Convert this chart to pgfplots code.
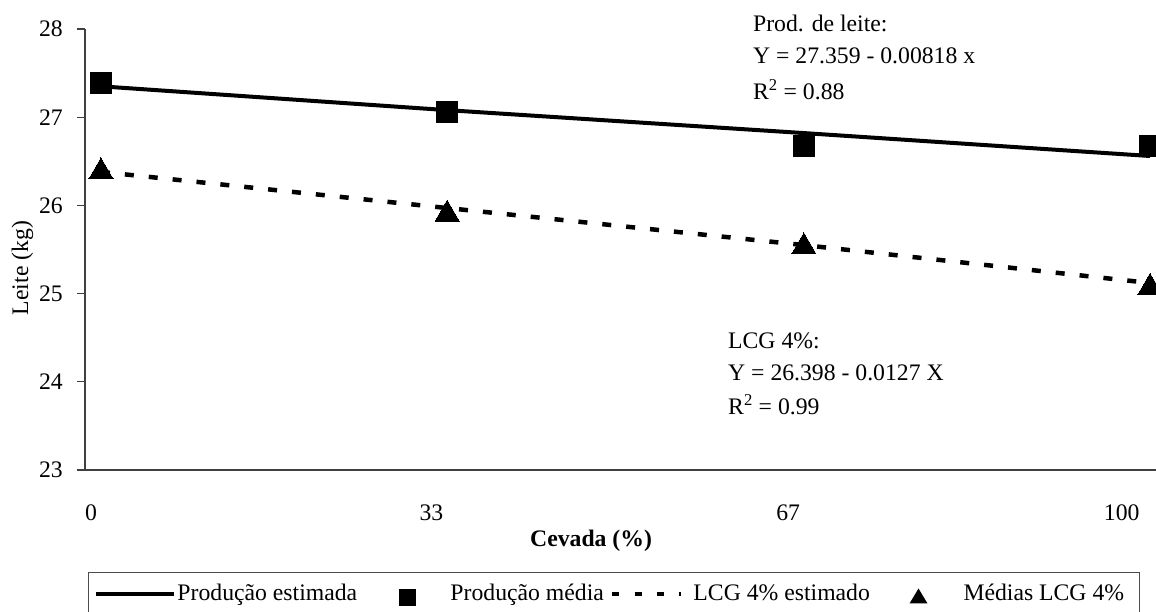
\documentclass[border=0pt]{standalone}
\usepackage{fontspec}
\setmainfont{Liberation Serif}
\usepackage{pgfplots}
\pgfplotsset{compat=1.18}
\begin{document}
\begin{tikzpicture}[font=\fontsize{23.7pt}{28pt}\selectfont]
\begin{axis}[
  name=ax,
  scale only axis,
  width=1071pt, height=441pt,
  xmin=-1.525, xmax=100.57,
  ymin=23, ymax=28,
  axis lines=left,
  axis line style={-, line width=1.3pt, black!75},
  ytick={23,24,25,26,27,28},
  xtick={-0.95,31.5,65.5,97.3},
  xticklabels={0,33,67,100},
  tick align=outside,
  major tick length=8pt,
  x tick style={draw=none},
  y tick style={line width=1.3pt, black!75},
  yticklabel style={inner sep=0pt, xshift=-14pt},
  xticklabel style={inner sep=0pt, yshift=-27pt},
  /pgf/number format/assume math mode=true,
  clip mode=individual,
  xlabel={\textbf{Cevada (\%)}},
  xlabel style={at={(axis description cs:0.4725,0)}, anchor=north, inner sep=0pt, yshift=-60pt},
  ylabel={Leite (kg)},
  ylabel style={at={(axis description cs:0,0.458)}, anchor=center, yshift=62.5pt},
  legend columns=4,
  legend style={at={(axis description cs:0,0)}, anchor=north west, xshift=3pt, yshift=-102pt,
     draw=black!70, line width=1pt, inner xsep=0pt, inner ysep=9pt,
     cells={anchor=west}, nodes={inner sep=0pt, text height=19pt, text depth=6pt},
     /tikz/every even column/.append style={column sep=0pt}},
]
\addplot[black, line width=4pt, line join=round, no marks,
  legend image code/.code={\draw[line width=4pt, black, solid] (8pt,0pt) -- (85pt,0pt); \path[draw=none,fill=none] (0pt,0pt) -- (89pt,0pt);}]
  coordinates {(0,27.35) (33,27.08) (67,26.82) (100,26.56)};
\addlegendentry{\makebox[213pt][l]{Produção estimada}}
\addplot[only marks, mark=square*, mark size=10.5pt, mark options={solid, fill=black, draw=black, line width=0pt},
  legend image code/.code={\fill[black, draw=none] (8.5pt,-12pt) rectangle (25.5pt,5pt); \path[draw=none,fill=none] (0pt,0pt) -- (60pt,0pt);}]
  coordinates {(0,27.39) (33,27.06) (67,26.67) (100,26.67)};
\addlegendentry{\makebox[155pt][l]{Produção média}}
\addplot[black, line width=4.5pt, dash pattern=on 9pt off 15pt, no marks,
  legend image code/.code={\draw[line width=3.5pt, black, dash pattern=on 7pt off 15pt] (7pt,0pt) -- (75pt,0pt); \path[draw=none,fill=none] (0pt,0pt) -- (88pt,0pt);}]
  coordinates {(0,26.38) (33,25.97) (67,25.55) (100,25.12)};
\addlegendentry{\makebox[200pt][l]{LCG 4\% estimado}}
\addplot[only marks, mark=triangle*, mark size=14pt, mark options={solid, fill=black, draw=black, line width=0pt},
  legend image code/.code={\fill[black, draw=none] (16pt,-9.5pt) -- (34pt,-9.5pt) -- (25pt,5.5pt) -- cycle; \path[draw=none,fill=none] (0pt,0pt) -- (70pt,0pt);}]
  coordinates {(0,26.38) (33,25.90) (67,25.53) (100,25.07)};
\addlegendentry{\makebox[176pt][l]{Médias LCG 4\%}}
\node[anchor=base west, inner sep=0pt] at (axis cs:62.15,27.969) {Prod. de leite:};
\node[anchor=base west, inner sep=0pt] at (axis cs:62.15,27.611) {Y = 27.359 - 0.00818 x};
\node[anchor=base west, inner sep=0pt] at (axis cs:62.15,27.206) {R\textsuperscript{2} = 0.88};
\node[anchor=base west, inner sep=0pt] at (axis cs:59.77,24.383) {LCG 4\%:};
\node[anchor=base west, inner sep=0pt] at (axis cs:59.77,24.020) {Y = 26.398 - 0.0127 X};
\node[anchor=base west, inner sep=0pt] at (axis cs:59.77,23.624) {R\textsuperscript{2} = 0.99};
\end{axis}
\pgfresetboundingbox
\path[use as bounding box] ([xshift=-85pt,yshift=-142pt]ax.south west) rectangle ([yshift=29pt]ax.north east);
\end{tikzpicture}
\end{document}
